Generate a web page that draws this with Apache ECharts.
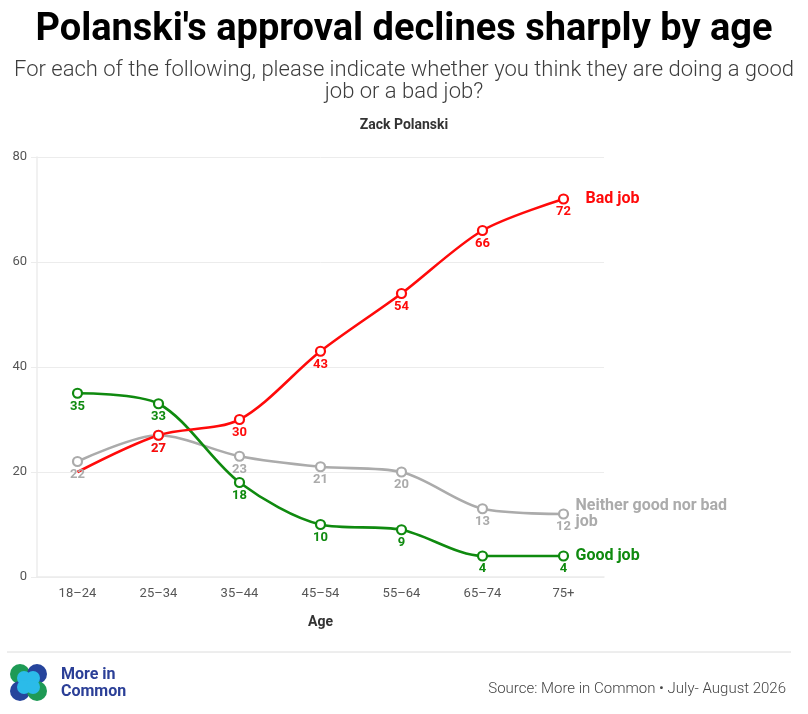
<!DOCTYPE html>
<html>
<head>
<meta charset="utf-8">
<script src="https://cdn.jsdelivr.net/npm/echarts@6/dist/echarts.min.js"></script>
<style>
  html, body { margin: 0; padding: 0; background: #fff; }
  #chart { width: 808px; height: 714px; }
</style>
</head>
<body>
<div id="chart"></div>
<script>
// Polanski approval by age group

const ages = ['18–24', '25–34', '35–44', '45–54', '55–64', '65–74', '75+'];
const goodJob = [35, 33, 18, 10, 9, 4, 4];
const badJob = [20, 27, 30, 43, 54, 66, 72];
const neitherJob = [22, 27, 23, 21, 20, 13, 12];
const yTicks = [0, 20, 40, 60, 80];

const COLORS = {
  good: '#0f8a0f',
  bad: '#ff0a0a',
  neither: '#ababab',
  axis: '#555555',
  grid: '#ececec',
  title: '#000000',
  sub: '#3d3d3d',
  brand: '#2b3f97',
};

const FONT = 'Roboto, "Noto Sans", sans-serif';

function lineSeries(name, values, color, endText, endGap, hideFirst) {
  return {
    name,
    type: 'line',
    smooth: 0.3,
    symbol: 'circle',
    symbolSize: 9,
    color,
    itemStyle: { color: '#fff', borderColor: color, borderWidth: 2.2 },
    lineStyle: { color, width: 2.6 },
    data: values.map((v, i) => (hideFirst && i === 0)
      ? { value: v, symbol: 'none', label: { show: false } }
      : v),
    label: {
      show: true, position: 'bottom', distance: 1,
      color, fontFamily: FONT, fontWeight: 'bold', fontSize: 13,
    },
    endLabel: {
      show: true, distance: endGap, color, fontFamily: FONT, fontWeight: 'bold',
      fontSize: 16, lineHeight: 16, formatter: endText,
    },
    emphasis: { disabled: true },
  };
}

const chart = echarts.init(document.getElementById('chart'), null, { renderer: 'canvas' });

chart.setOption({
  backgroundColor: '#fff',
  animation: false,
  textStyle: { fontFamily: FONT },
  title: [
    {
      text: "Polanski's approval declines sharply by age",
      left: 'center', top: 6,
      textStyle: { fontFamily: FONT, fontSize: 38, fontWeight: 'bold', color: COLORS.title },
    },
    {
      text: 'Zack Polanski',
      left: 'center', top: 113,
      textStyle: { fontFamily: FONT, fontSize: 14, fontWeight: 'bold', color: '#333' },
    },
    {
      text: 'Source: More in Common • July- August 2026',
      right: 17, top: 677,
      textStyle: { fontFamily: FONT, fontSize: 15, fontWeight: 300, color: '#444' },
    },
  ],
  grid: { left: 37, right: 204, top: 157, bottom: 137 },
  xAxis: {
    type: 'category',
    data: ages,
    name: 'Age',
    nameLocation: 'middle',
    nameGap: 38,
    nameTextStyle: { color: '#333', fontFamily: FONT, fontWeight: 'bold', fontSize: 14 },
    axisLine: { lineStyle: { color: COLORS.grid, width: 1.5 } },
    axisTick: { alignWithLabel: true, length: 5, lineStyle: { color: COLORS.grid } },
    axisLabel: { color: COLORS.axis, fontSize: 13, margin: 10, fontFamily: FONT },
  },
  yAxis: {
    type: 'value',
    min: yTicks[0],
    max: yTicks[yTicks.length - 1],
    interval: 20,
    axisLine: { show: true, lineStyle: { color: COLORS.grid, width: 1.5 } },
    axisTick: { show: true, length: 6, lineStyle: { color: COLORS.grid } },
    axisLabel: { color: COLORS.axis, fontSize: 13, margin: 10, fontFamily: FONT },
    splitLine: { lineStyle: { color: COLORS.grid, width: 1 } },
  },
  series: [
    lineSeries('Neither good nor bad job', neitherJob, COLORS.neither, 'Neither good nor bad\njob', 12),
    lineSeries('Good job', goodJob, COLORS.good, 'Good job', 12),
    lineSeries('Bad job', badJob, COLORS.bad, 'Bad job', 22, true),
  ],
  graphic: [
    {
      type: 'text', x: 404, y: 59,
      style: {
        text: 'For each of the following, please indicate whether you think they are doing a good\njob or a bad job?',
        fill: COLORS.sub, font: '300 22px ' + FONT, lineHeight: 22, align: 'center',
      },
    },
    // footer divider
    { type: 'line', shape: { x1: 7, y1: 652, x2: 791, y2: 652 }, style: { stroke: '#dcdcdc', lineWidth: 1 } },
    // logo
    { type: 'circle', shape: { cx: 20, cy: 674, r: 10 }, style: { fill: '#1e9a55' } },
    { type: 'circle', shape: { cx: 37, cy: 674, r: 10 }, style: { fill: '#26449c' } },
    { type: 'circle', shape: { cx: 20, cy: 691, r: 10 }, style: { fill: '#26449c' } },
    { type: 'circle', shape: { cx: 37, cy: 691, r: 10 }, style: { fill: '#1e9a55' } },
    { type: 'circle', shape: { cx: 24, cy: 678, r: 7 }, style: { fill: '#2bbbe9' } },
    { type: 'circle', shape: { cx: 33, cy: 678, r: 7 }, style: { fill: '#2bbbe9' } },
    { type: 'circle', shape: { cx: 24, cy: 687, r: 7 }, style: { fill: '#2bbbe9' } },
    { type: 'circle', shape: { cx: 33, cy: 687, r: 7 }, style: { fill: '#2bbbe9' } },
    {
      type: 'text', left: 61, top: 666,
      style: { text: 'More in\nCommon', fill: COLORS.brand, font: 'bold 16px ' + FONT, lineHeight: 17 },
    },
  ],
});
</script>
</body>
</html>
